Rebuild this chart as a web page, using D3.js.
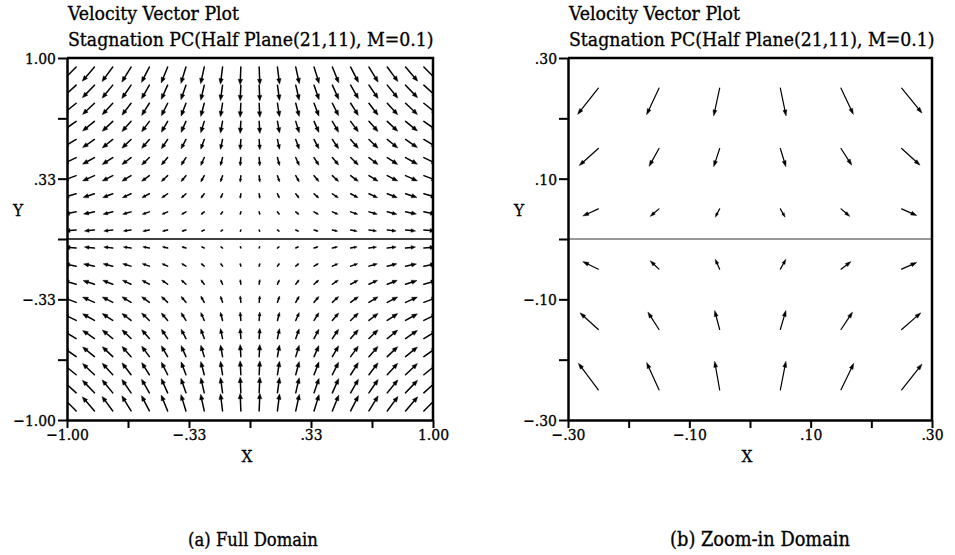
<!DOCTYPE html>
<html><head><meta charset="utf-8">
<script src="https://cdn.jsdelivr.net/npm/d3@7"></script>
<style>body{margin:0;background:#fff}</style>
</head><body><svg id="c" width="955" height="555"></svg>
<script>
// ---------------- data ----------------
const titleLine1 = "Velocity Vector Plot";
const titleLine2 = "Stagnation PC(Half Plane(21,11), M=0.1)";
const captions = ["(a) Full Domain", "(b) Zoom-in Domain"];
const axisNames = ["X", "Y"];

const fullDomain = [-1, 1];
const fullTicks = [-1, -2/3, -1/3, 0, 1/3, 2/3, 1];
const fullTickLabels = ["−1.00", "", "−.33", "", ".33", "", "1.00"];

const zoomDomain = [-0.3, 0.3];
const zoomTicks = [-0.3, -0.2, -0.1, 0, 0.1, 0.2, 0.3];
const zoomTickLabels = ["−.30", "", "−.10", "", ".10", "", ".30"];

// Full domain: one quadrant (x>0, y>0); field is mirror-symmetric
const fullQX = [0.05, 0.15, 0.25, 0.35, 0.45, 0.55, 0.65, 0.75, 0.85, 0.95];
const fullQY = [0.05, 0.15, 0.25, 0.35, 0.45, 0.55, 0.65, 0.75, 0.85, 0.95];
// rows follow fullQY, columns follow fullQX
const fullQU = [
  [0.04, 0.13, 0.21, 0.30, 0.38, 0.47, 0.55, 0.64, 0.72, 0.81],
  [0.05, 0.14, 0.23, 0.32, 0.41, 0.51, 0.60, 0.69, 0.78, 0.87],
  [0.05, 0.14, 0.24, 0.34, 0.43, 0.53, 0.62, 0.72, 0.82, 0.91],
  [0.05, 0.15, 0.25, 0.35, 0.45, 0.55, 0.65, 0.75, 0.85, 0.95],
  [0.05, 0.15, 0.25, 0.35, 0.45, 0.55, 0.65, 0.75, 0.85, 0.95],
  [0.05, 0.15, 0.25, 0.35, 0.45, 0.55, 0.65, 0.75, 0.85, 0.95],
  [0.05, 0.15, 0.25, 0.35, 0.45, 0.55, 0.65, 0.75, 0.85, 0.95],
  [0.05, 0.15, 0.25, 0.35, 0.45, 0.55, 0.65, 0.75, 0.85, 0.96],
  [0.05, 0.15, 0.25, 0.36, 0.46, 0.56, 0.66, 0.76, 0.86, 0.96],
  [0.05, 0.15, 0.26, 0.36, 0.46, 0.56, 0.66, 0.77, 0.87, 0.97]
];
const fullQV = [
  [-0.10, -0.10, -0.10, -0.09, -0.09, -0.09, -0.08, -0.08, -0.08, -0.07],
  [-0.20, -0.20, -0.19, -0.19, -0.18, -0.18, -0.17, -0.17, -0.16, -0.16],
  [-0.34, -0.33, -0.32, -0.31, -0.30, -0.29, -0.29, -0.28, -0.27, -0.26],
  [-0.47, -0.46, -0.45, -0.43, -0.42, -0.41, -0.40, -0.39, -0.38, -0.36],
  [-0.61, -0.59, -0.58, -0.56, -0.54, -0.53, -0.51, -0.50, -0.48, -0.47],
  [-0.74, -0.72, -0.70, -0.68, -0.67, -0.64, -0.63, -0.61, -0.59, -0.57],
  [-0.88, -0.85, -0.83, -0.80, -0.79, -0.76, -0.74, -0.72, -0.70, -0.67],
  [-1.01, -0.98, -0.96, -0.93, -0.91, -0.88, -0.86, -0.83, -0.81, -0.78],
  [-1.14, -1.11, -1.09, -1.05, -1.03, -0.99, -0.97, -0.94, -0.91, -0.88],
  [-1.28, -1.24, -1.21, -1.18, -1.15, -1.11, -1.09, -1.05, -1.02, -0.98]
];

// Zoom-in domain: 6 x 6 vectors, read directly
const zoomX = [-0.25, -0.15, -0.05, 0.05, 0.15, 0.25];
const zoomY = [0.25, 0.15, 0.05, -0.05, -0.15, -0.25];
const zoomU = [
  [-0.26, -0.155, -0.075, 0.072, 0.155, 0.255],
  [-0.24, -0.125, -0.075, 0.070, 0.135, 0.230],
  [-0.195, -0.110, -0.055, 0.060, 0.110, 0.190],
  [-0.195, -0.110, -0.055, 0.070, 0.125, 0.190],
  [-0.230, -0.140, -0.063, 0.070, 0.145, 0.240],
  [-0.250, -0.155, -0.063, 0.070, 0.160, 0.255]
];
const zoomV = [
  [-0.33, -0.335, -0.35, -0.35, -0.33, -0.315],
  [-0.215, -0.225, -0.23, -0.23, -0.21, -0.21],
  [-0.09, -0.095, -0.105, -0.105, -0.095, -0.085],
  [0.095, 0.105, 0.125, 0.125, 0.095, 0.085],
  [0.21, 0.22, 0.24, 0.24, 0.22, 0.21],
  [0.335, 0.345, 0.36, 0.36, 0.335, 0.325]
];

// ---------------- drawing ----------------
const svg = d3.select("#c");
const FONT = "'DejaVu Serif Condensed', 'DejaVu Serif', serif";

function styleText(sel, fs) {
  return sel.attr("font-family", FONT).attr("font-size", fs).attr("fill", "#000")
    .attr("stroke", "#000").attr("stroke-width", 0.3);
}
function fitText(sel, target) {
  const w = sel.node().getComputedTextLength();
  const fs = parseFloat(sel.attr("font-size"));
  const nfs = fs * target / w;
  sel.attr("font-size", nfs.toFixed(2));
  return nfs;
}

function buildFull() {
  const out = [];
  fullQY.forEach((y, j) => {
    fullQX.forEach((x, i) => {
      const u = fullQU[j][i], v = fullQV[j][i];
      out.push({x: x, y: y, u: u, v: v});
      out.push({x: -x, y: y, u: -u, v: v});
      out.push({x: x, y: -y, u: u, v: -v});
      out.push({x: -x, y: -y, u: -u, v: -v});
    });
  });
  return out;
}
function buildZoom() {
  const out = [];
  zoomY.forEach((y, j) => zoomX.forEach((x, i) => out.push({x, y, u: zoomU[j][i], v: zoomV[j][i]})));
  return out;
}

function panel(cfg) {
  const {x0, x1, y0, y1, domain, ticks, labels, vectors, scale, id, center} = cfg;
  const xs = d3.scaleLinear().domain(domain).range([x0, x1]);
  const ys = d3.scaleLinear().domain(domain).range([y1, y0]);
  const g = svg.append("g");

  g.append("clipPath").attr("id", id).append("rect")
    .attr("x", x0).attr("y", y0).attr("width", x1 - x0).attr("height", y1 - y0);

  // center line y = 0
  g.append("line").attr("x1", x0).attr("x2", x1)
    .attr("y1", ys(0)).attr("y2", ys(0))
    .attr("stroke", cfg.centerColor).attr("stroke-width", center);

  const vg = g.append("g").attr("clip-path", `url(#${id})`);
  vectors.forEach(d => {
    const tx = xs(d.x), ty = ys(d.y);
    const hx = xs(d.x + d.u * scale), hy = ys(d.y + d.v * scale);
    const dx = hx - tx, dy = hy - ty;
    const len = Math.hypot(dx, dy);
    if (len < 0.3) return;
    const ux = dx / len, uy = dy / len;
    const h = Math.min(cfg.head, len * 0.45);
    const w = h * cfg.headW;
    const bx = hx - ux * h, by = hy - uy * h;
    vg.append("line").attr("x1", tx).attr("y1", ty).attr("x2", bx + ux * 0.5).attr("y2", by + uy * 0.5)
      .attr("stroke", "#000").attr("stroke-width", cfg.lw).attr("stroke-linecap", "round");
    vg.append("path")
      .attr("d", `M${hx},${hy}L${bx - uy * w},${by + ux * w}L${bx + uy * w},${by - ux * w}Z`)
      .attr("fill", "#000").attr("stroke", "#000").attr("stroke-width", 0.4);
  });

  // axes
  const fmt = (d, i) => labels[i];
  const ax = g.append("g").attr("transform", `translate(0,${y1})`)
    .call(d3.axisBottom(xs).tickValues(ticks).tickFormat(fmt).tickSize(8).tickSizeOuter(0).tickPadding(1));
  const ay = g.append("g").attr("transform", `translate(${x0},0)`)
    .call(d3.axisLeft(ys).tickValues(ticks).tickFormat(fmt).tickSize(9).tickSizeOuter(0).tickPadding(2));
  [ax, ay].forEach(a => {
    a.select(".domain").attr("stroke-width", 2.5).attr("stroke", "#000");
    a.selectAll(".tick line").attr("stroke-width", 2).attr("stroke", "#000");
    styleText(a.selectAll(".tick text"), 15.5);
  });
  ay.selectAll(".tick text").attr("dy", "0.36em");
  // top and right border
  g.append("path").attr("d", `M${x0},${y0}H${x1}V${y1}`)
    .attr("fill", "none").attr("stroke", "#000").attr("stroke-width", 2.5);

  // titles (same size for both lines, fitted to the subtitle width)
  const t2 = styleText(g.append("text").attr("x", x0 + 1).attr("y", 46).text(titleLine2), 14);
  const tfs = fitText(t2, 366);
  styleText(g.append("text").attr("x", x0 + 1).attr("y", 20).text(titleLine1), tfs.toFixed(2));

  styleText(g.append("text").attr("x", (x0 + x1) / 2 - 3).attr("y", 462).attr("text-anchor", "middle")
    .text(axisNames[0]), 17);
  styleText(g.append("text").attr("x", x0 - 49).attr("y", 216).attr("text-anchor", "middle")
    .text(axisNames[1]), 17);

  const c = styleText(g.append("text").attr("x", cfg.capX).attr("y", 546).attr("text-anchor", "middle")
    .text(cfg.caption), 16);
  fitText(c, cfg.capW);
}

panel({x0: 67, x1: 433, y0: 58, y1: 420, domain: fullDomain, ticks: fullTicks, labels: fullTickLabels,
  vectors: buildFull(), scale: 0.0765, id: "clipA", center: 1.6, centerColor: "#000", head: 5.5, headW: 0.4, lw: 1.5,
  caption: captions[0], capX: 253, capW: 130});
panel({x0: 568, x1: 932, y0: 58, y1: 420, domain: zoomDomain, ticks: zoomTicks, labels: zoomTickLabels,
  vectors: buildZoom(), scale: 0.1318, id: "clipB", center: 1, centerColor: "#333", head: 6, headW: 0.33, lw: 1.2,
  caption: captions[1], capX: 760, capW: 180});
</script></body></html>
